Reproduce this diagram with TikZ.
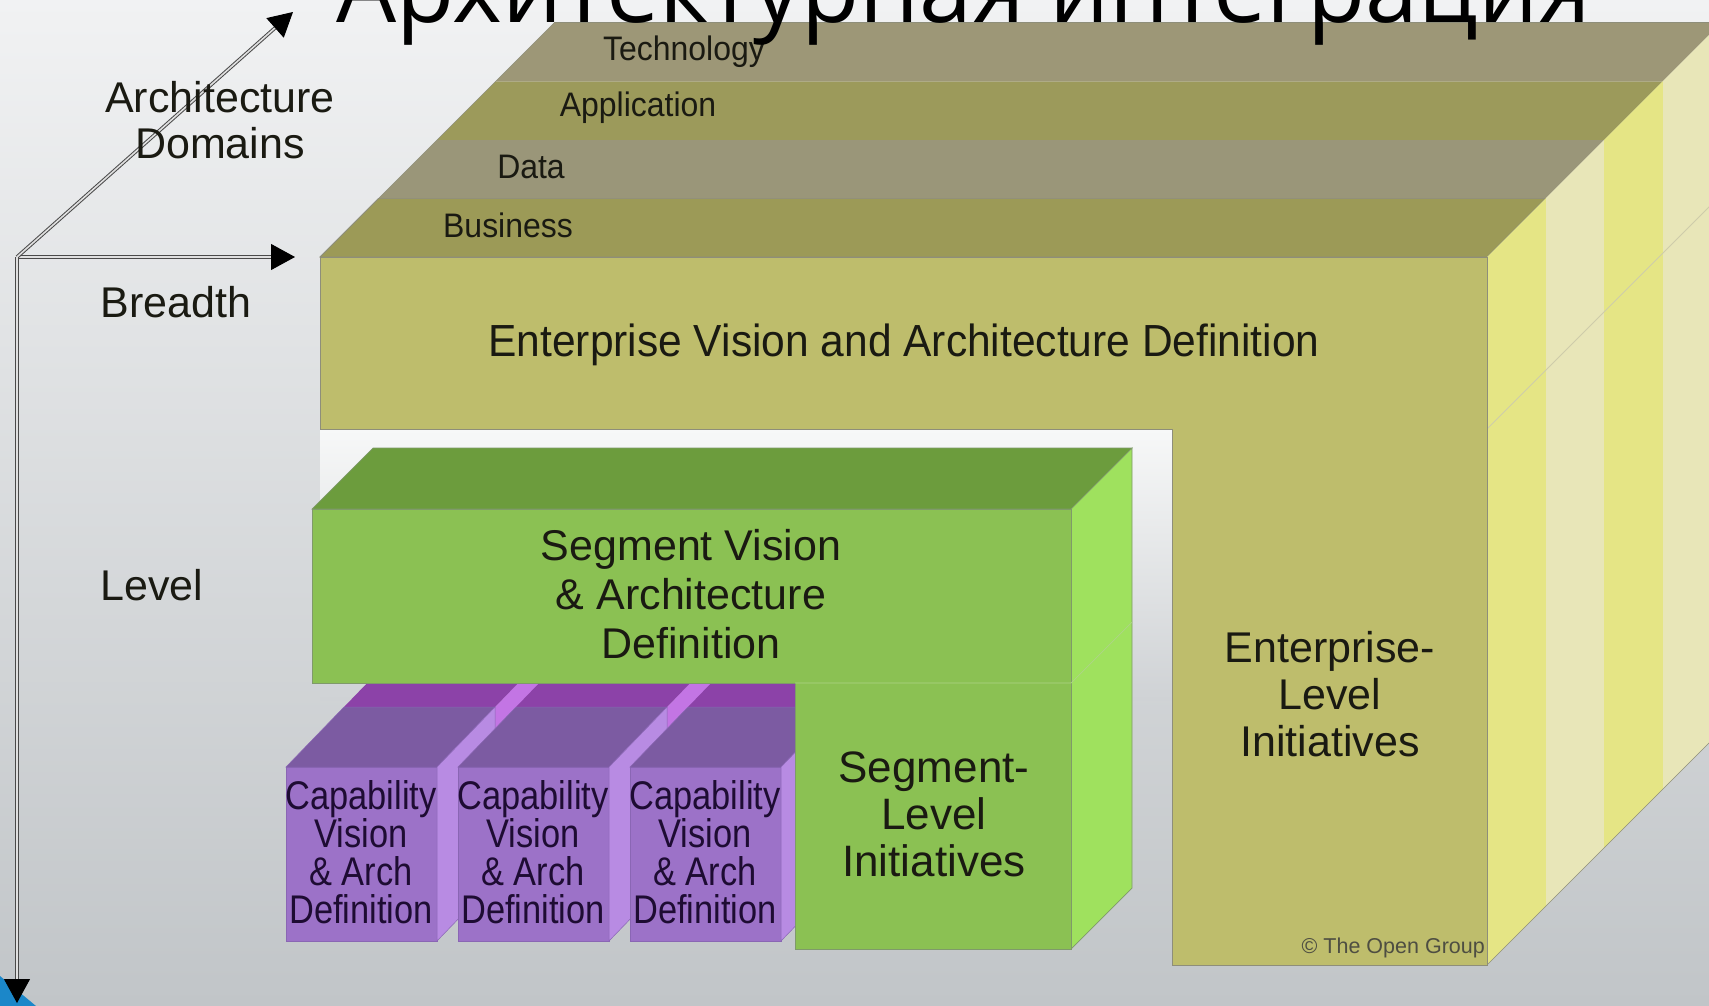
\documentclass[tikz,border=0pt]{standalone}
\usepackage{fontspec}
\setmainfont{Liberation Sans}
\newfontfamily\titlefont{Open Sans}
\usetikzlibrary{arrows.meta}
\definecolor{bgtop}{HTML}{F1F2F3}
\definecolor{bgbot}{HTML}{C1C5C8}
\definecolor{patchtop}{HTML}{F7F8F8}
\definecolor{patchbot}{HTML}{CFD2D5}
\definecolor{entfront}{HTML}{BEBD6C}
\definecolor{enttech}{HTML}{9D9777}
\definecolor{entapp}{HTML}{9C9A5B}
\definecolor{entdata}{HTML}{9A9679}
\definecolor{entbus}{HTML}{9C9A57}
\definecolor{sideyel}{HTML}{E5E585}
\definecolor{sidepale}{HTML}{E8E6B8}
\definecolor{entedge}{HTML}{8E8E7A}
\definecolor{grfront}{HTML}{8BC153}
\definecolor{grtop}{HTML}{6C9C3D}
\definecolor{grside}{HTML}{9FE15E}
\definecolor{grline}{HTML}{7F9A6A}
\definecolor{pufront}{HTML}{9C72C8}
\definecolor{putop}{HTML}{7C5BA2}
\definecolor{puside}{HTML}{B88BE3}
\definecolor{pubtop}{HTML}{8C42A8}
\definecolor{pubside}{HTML}{C375E4}
\definecolor{puline}{HTML}{8A66B4}
\definecolor{txt}{HTML}{1A1A12}
\definecolor{putxt}{HTML}{1E0C33}
\definecolor{copytxt}{HTML}{4E4E42}
\definecolor{axiscol}{HTML}{4A4A4A}
\definecolor{deco}{HTML}{1B87C9}
\begin{document}
\begin{tikzpicture}[x=1pt,y=-1pt,
  lbl/.style={inner sep=0pt, align=center, text=txt},
  domlbl/.style={lbl, font=\fontsize{34}{34}\selectfont, xscale=0.94},
  axislbl/.style={lbl, font=\fontsize{43}{46}\selectfont},
  blocklbl/.style={lbl, font=\fontsize{43}{49}\selectfont},
  caplbl/.style={lbl, text=putxt, font=\fontsize{40}{38}\selectfont, xscale=0.86},
  axisline/.style={draw=axiscol, line width=1pt, double=white!88!black, double distance=1.6pt,
    -{Triangle[length=24pt,width=26pt,color=black]}},
  entface/.style={draw=entedge, line width=0.8pt},
  grface/.style={draw=grline, line width=0.7pt},
  puface/.style={draw=puline, line width=0.5pt}]
\useasboundingbox (0,0) rectangle (1709,1006);
\clip (0,0) rectangle (1709,1006);
% background
\shade[top color=bgtop, bottom color=bgbot] (0,0) rectangle (1709,1006);
\fill[deco] (0,976) -- (36,1006) -- (0,1006) -- cycle;
% light patch inside the L, fading into the background
\shade[top color=patchtop, bottom color=patchbot] (320,429) rectangle (1172,700);
% enterprise block: top face bands
\filldraw[entface, fill=entbus] (320,257) -- (1487,257) -- (1545.5,198.5) -- (378.5,198.5) -- cycle;
\fill[entdata] (378.5,198.5) -- (1545.5,198.5) -- (1604,140) -- (437,140) -- cycle;
\fill[entapp] (437,140) -- (1604,140) -- (1662.5,81.5) -- (495.5,81.5) -- cycle;
\fill[enttech] (495.5,81.5) -- (1662.5,81.5) -- (1721,23) -- (554,23) -- cycle;
\draw[entedge, line width=1pt] (554,23) -- (1721,23);
\draw[entedge, line width=0.6pt] (320,257) -- (554,23);
% enterprise side face stripes
\begin{scope}
  \clip (1487,257) -- (1721,23) -- (1721,731) -- (1487,965) -- cycle;
  \fill[sideyel] (1487,0) rectangle (1545.5,1006);
  \fill[sidepale] (1545.5,0) rectangle (1604,1006);
  \fill[sideyel] (1604,0) rectangle (1662.5,1006);
  \fill[sidepale] (1662.5,0) rectangle (1721,1006);
  \draw[sidepale!75!gray, line width=0.9pt] (1487,429) -- (1721,195);
\end{scope}
\draw[entedge, line width=0.6pt] (1487,965) -- (1721,731);
% enterprise front face (L)
\filldraw[entface, fill=entfront] (320,257) -- (1487,257) -- (1487,965) -- (1172,965) -- (1172,429) -- (320,429) -- cycle;
% purple capability cubes: back row
\foreach \x in {286,458,630}{
  \fill[pubside] ({\x+209},707) -- ({\x+267},647) -- ({\x+267},821) -- ({\x+209},881) -- cycle;
  \fill[pubtop] ({\x+58},707) -- ({\x+209},707) -- ({\x+267},647) -- ({\x+116},647) -- cycle;
}
% purple capability cubes: front row
\foreach \x in {286,458,630}{
  \filldraw[puface, fill=pufront] (\x,767) rectangle ({\x+151},941);
  \filldraw[puface, fill=putop] (\x,767) -- ({\x+151},767) -- ({\x+209},707) -- ({\x+58},707) -- cycle;
  \filldraw[puface, fill=puside] ({\x+151},767) -- ({\x+209},707) -- ({\x+209},881) -- ({\x+151},941) -- cycle;
}
% green segment block
\filldraw[grface, fill=grtop] (312,509) -- (1071,509) -- (1132,448) -- (373,448) -- cycle;
\filldraw[grface, fill=grside] (1071,509) -- (1132,448) -- (1132,888) -- (1071,949) -- cycle;
\filldraw[grface, fill=grfront] (312,509) -- (1071,509) -- (1071,949) -- (795,949) -- (795,683) -- (312,683) -- cycle;
\draw[grfront!70!white, line width=0.7pt] (795,683) -- (1071,683) -- (1132,622);
% domain labels
\node[domlbl] (tech) at (684,52) {Technology};
\node[domlbl] (app) at (638,108) {Application};
\node[domlbl] (data) at (531,167) {Data};
\node[domlbl] (bus) at (508,225) {Business};
% block labels
\node[lbl, font=\fontsize{45}{45}\selectfont, xscale=0.945] (evad) at (904,345) {Enterprise Vision and Architecture Definition};
\node[blocklbl] (svad) at (691,594) {Segment Vision\\\& Architecture\\Definition};
\node[lbl, font=\fontsize{44}{47}\selectfont] (sli) at (934,814) {Segment-\\Level\\Initiatives};
\node[lbl, font=\fontsize{43}{47}\selectfont] (eli) at (1330,694) {Enterprise-\\Level\\Initiatives};
\node[caplbl] (cap1) at (361,852) {Capability\\Vision\\\& Arch\\Definition};
\node[caplbl] (cap2) at (533,852) {Capability\\Vision\\\& Arch\\Definition};
\node[caplbl] (cap3) at (705,852) {Capability\\Vision\\\& Arch\\Definition};
\node[lbl, anchor=east, text=copytxt, font=\fontsize{21.5}{21.5}\selectfont] (copy) at (1485,948) {\textcopyright{} The Open Group};
% axes
\coordinate (origin) at (17,257);
\coordinate (breadthend) at (295,257);
\coordinate (domainend) at (293,12);
\coordinate (levelend) at (17,1003);
\draw[axisline] (origin) -- (breadthend);
\draw[axisline] (origin) -- (domainend);
\draw[axisline] (origin) -- (levelend);
\node[axislbl] (archdom) at (220,120) {Architecture\\Domains};
\node[axislbl] (breadth) at (176,302) {Breadth};
\node[axislbl] (level) at (152,585) {Level};
% title
\node[anchor=base west, inner sep=0pt, font=\titlefont\fontsize{95}{95}\selectfont] (title) at (336,23) {Архитектурная интеграция};
\end{tikzpicture}
\end{document}
